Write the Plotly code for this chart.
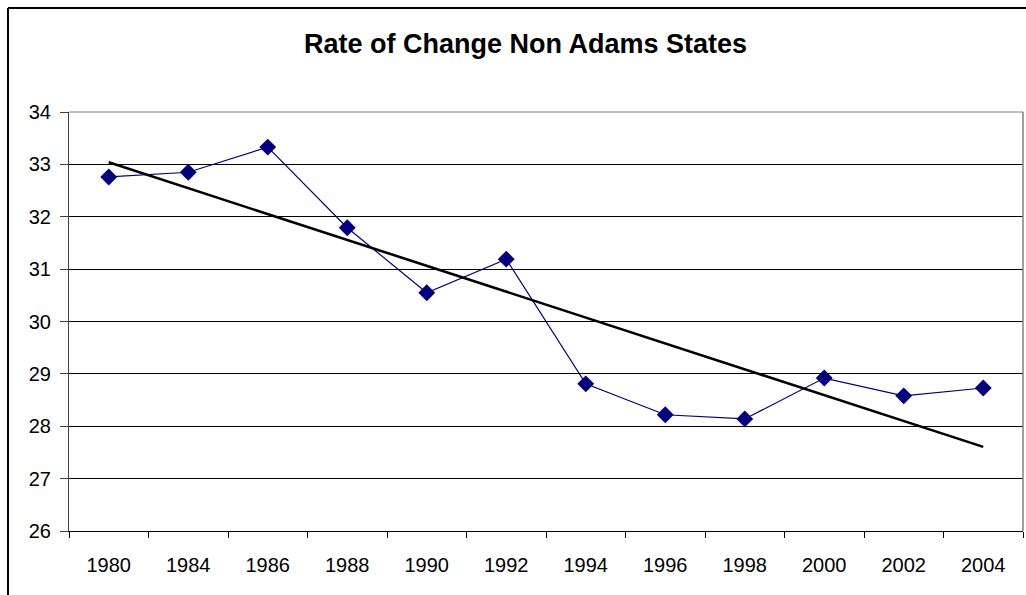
import numpy as np
import plotly.graph_objects as go

years = ["1980", "1984", "1986", "1988", "1990", "1992", "1994", "1996", "1998", "2000", "2002", "2004"]
rates = [32.76, 32.85, 33.33, 31.79, 30.55, 31.19, 28.81, 28.22, 28.14, 28.92, 28.58, 28.73]
y_ticks = [26, 27, 28, 29, 30, 31, 32, 33, 34]
title_text = "Rate of Change Non Adams States"

# linear trendline (least squares on category index, as Excel does)
idx = np.arange(1, len(rates) + 1)
slope, intercept = np.polyfit(idx, rates, 1)
trend = list(slope * idx + intercept)

FONT = "Liberation Sans, Arial, sans-serif"

fig = go.Figure()
fig.add_trace(go.Scatter(
    x=years, y=rates, mode="lines+markers",
    line=dict(color="#000080", width=1.2),
    marker=dict(symbol="diamond", size=13, color="#000080"),
    showlegend=False, hoverinfo="x+y",
))
fig.add_trace(go.Scatter(
    x=[years[0], years[-1]], y=[trend[0], trend[-1]], mode="lines",
    line=dict(color="#000000", width=2.6),
    showlegend=False, hoverinfo="skip",
))

BX = (8 - 69) / 954          # chart-area border left edge (paper units)
BY = 1 + (112 - 8) / 419     # chart-area border top edge (paper units)

fig.update_layout(
    width=1026, height=595, autosize=False,
    margin=dict(l=69, r=3, t=112, b=64),
    paper_bgcolor="white", plot_bgcolor="white",
    font=dict(family=FONT, size=20, color="black"),
    title=dict(text="<b>" + title_text + "</b>", x=0.4785, xref="paper",
               xanchor="center", y=1 - 44 / 595, yref="container", yanchor="middle",
               font=dict(family=FONT, size=27, color="black")),
    xaxis=dict(
        type="category", categoryorder="array", categoryarray=years,
        range=[-0.5, len(years) - 0.5],
        tickson="boundaries", ticks="outside", ticklen=6, tickcolor="#000000",
        showline=True, linecolor="#000000", linewidth=1,
        showgrid=False, zeroline=False,
        tickfont=dict(family=FONT, size=20, color="black"),
        ticklabelstandoff=16,
    ),
    yaxis=dict(
        range=[26, 34], tickvals=y_ticks, ticktext=[str(v) for v in y_ticks],
        ticks="outside", ticklen=8, tickcolor="#404040",
        showline=True, linecolor="#404040", linewidth=1, mirror=False,
        showgrid=True, gridcolor="#000000", gridwidth=1, zeroline=False,
        tickfont=dict(family=FONT, size=20, color="black"),
        ticklabelstandoff=5,
    ),
    shapes=[
        # plot area border (top and right, grey)
        dict(type="line", xref="paper", yref="paper", x0=0, x1=1, y0=1, y1=1,
             line=dict(color="#808080", width=1), layer="above"),
        dict(type="line", xref="paper", yref="paper", x0=1, x1=1, y0=0, y1=1,
             line=dict(color="#808080", width=1.5), layer="above"),
        # chart area border (left and top edges visible)
        dict(type="line", xref="paper", yref="paper",
             x0=BX, x1=BX, y0=-0.3, y1=BY,
             line=dict(color="#000000", width=2), layer="above"),
        dict(type="line", xref="paper", yref="paper",
             x0=BX, x1=1.05, y0=BY, y1=BY,
             line=dict(color="#000000", width=2), layer="above"),
    ],
)

fig.write_html(
    "out.html",
    config={"responsive": False, "displayModeBar": False},
    post_script="document.body.style.margin='0';document.body.style.overflow='hidden';",
)
